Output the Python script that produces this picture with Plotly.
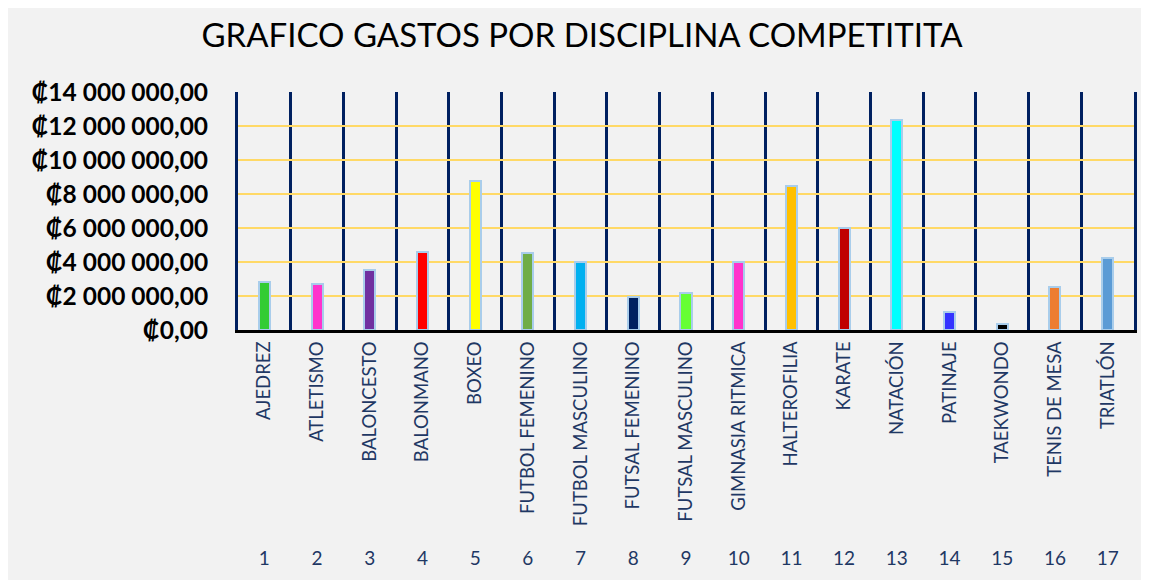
import plotly.graph_objects as go

categories = ["AJEDREZ", "ATLETISMO", "BALONCESTO", "BALONMANO", "BOXEO",
              "FUTBOL FEMENINO", "FUTBOL MASCULINO", "FUTSAL FEMENINO",
              "FUTSAL MASCULINO", "GIMNASIA RITMICA", "HALTEROFILIA", "KARATE",
              "NATACIÓN", "PATINAJE", "TAEKWONDO", "TENIS DE MESA", "TRIATLÓN"]
numbers = list(range(1, 18))
gastos = [2800000, 2690000, 3510000, 4600000, 8760000,
          4550000, 3980000, 1940000, 2200000, 3980000,
          8450000, 6020000, 12350000, 1060000, 330000,
          2530000, 4250000]
colors = ["#33cc33", "#ff33cc", "#7030a0", "#ff0000", "#ffff00",
          "#70ad47", "#00b0f0", "#002060", "#66ff33", "#ff33cc",
          "#ffc000", "#c00000", "#00ffff", "#3333ff", "#000000",
          "#ed7d31", "#5b9bd5"]
boundaries = [n - 0.5 for n in numbers] + [numbers[-1] + 0.5]

navy = "#1f3864"
fig = go.Figure()
fig.add_trace(go.Bar(
    x=numbers, y=gastos, width=0.21,
    marker=dict(color=colors, line=dict(color="#a9cdeb", width=2)),
    hoverinfo="skip", showlegend=False))
fig.add_trace(go.Scatter(
    x=numbers, y=gastos, xaxis="x2", yaxis="y", mode="markers",
    marker=dict(opacity=0), hoverinfo="skip", showlegend=False))

W, H = 1141, 572
fig.update_layout(
    width=W, height=H,
    margin=dict(l=230, r=15, t=84, b=35),
    paper_bgcolor="#f2f2f2", plot_bgcolor="#f2f2f2",
    separators=", ",
    title=dict(text="GRAFICO GASTOS POR DISCIPLINA COMPETITITA",
               x=574 / W, xanchor="center", xref="container",
               y=1 - 27 / H, yanchor="middle", yref="container",
               font=dict(family="Lato", size=33, color="#000000")),
    xaxis=dict(range=[0.5, 17.5], tickvals=numbers, ticktext=categories,
               tickangle=-90, showgrid=False, zeroline=False,
               showline=True, linecolor="#000000", linewidth=3,
               ticks="", ticklabelstandoff=1,
               tickfont=dict(family="Lato", size=18.5, color=navy),
               minor=dict(tickvals=boundaries, showgrid=True,
                          gridcolor="#002060", gridwidth=3, ticks="")),
    xaxis2=dict(range=[0.5, 17.5], tickvals=numbers,
                ticktext=[str(n) for n in numbers], overlaying="x",
                anchor="free", position=0, side="bottom",
                showgrid=False, zeroline=False, showline=False, ticks="",
                tickfont=dict(family="Lato", size=19, color=navy)),
    yaxis=dict(domain=[(537 - 322) / 453, 1], range=[0, 14000000],
               dtick=2000000, tickformat=",.2f", tickprefix="₡",
               showgrid=True, gridcolor="#ffd966", gridwidth=1.5,
               zeroline=False, showline=True, mirror=True,
               linecolor="#002060", linewidth=3,
               ticks="outside", ticklen=22, tickcolor="rgba(0,0,0,0)",
               tickfont=dict(family="Lato", size=24.5, color="#000000",
                             weight="bold")),
    bargap=0,
)

fig.write_html("out.html")
